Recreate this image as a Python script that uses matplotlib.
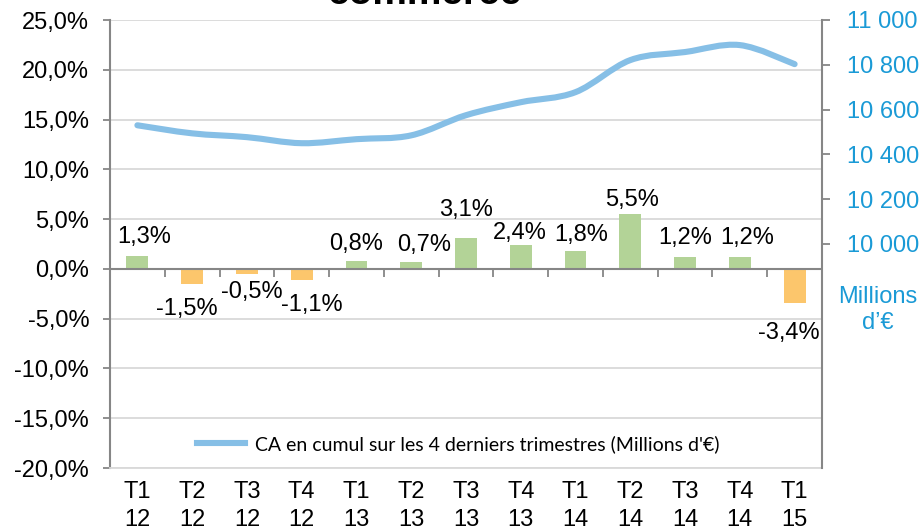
import matplotlib
matplotlib.use("Agg")
import matplotlib.pyplot as plt
from matplotlib.path import Path
from matplotlib.patches import PathPatch
import numpy as np

quarters = ["T1", "T2", "T3", "T4", "T1", "T2", "T3", "T4", "T1", "T2", "T3", "T4", "T1"]
years = ["12", "12", "12", "12", "13", "13", "13", "13", "14", "14", "14", "14", "15"]
growth_pct = [1.3, -1.5, -0.5, -1.1, 0.8, 0.7, 3.1, 2.4, 1.8, 5.5, 1.2, 1.2, -3.4]
ca_cumul = [10530, 10494, 10477, 10450, 10468, 10485, 10575, 10633, 10678, 10821, 10857, 10888, 10803]

left_ticks = [-20, -15, -10, -5, 0, 5, 10, 15, 20, 25]
right_ticks = [10000, 10200, 10400, 10600, 10800, 11000]

# label nudges (pixels), as placed in the original chart
label_dx = [7, -5, 5, 10, 0, 13, 0, -1, 6, 2, 0, 7, -6]
label_gap = [8, 14, 7, 14, 6, 6, 17, 1, 5, 3, 8, 8, 19]

plt.rcParams['font.family'] = ['Liberation Sans', 'DejaVu Sans']

GREEN = "#B3D397"
ORANGE = "#FCC66C"
LINE = "#86BFE6"
BLUE_TXT = "#1A9AD6"
GRID = "#D9D9D9"
SPINE = "#868686"
FS = 17
LW = 4.4

fig = plt.figure(figsize=(9.21, 5.32), dpi=100)
ax1 = fig.add_axes([110/921, 1-468/532, 712/921, 448/532])
ax2 = ax1.twinx()

x = np.arange(len(growth_pct))
colors = [GREEN if v >= 0 else ORANGE for v in growth_pct]
ax1.bar(x, growth_pct, width=0.4, color=colors, zorder=2)

for xi, v, dx, g in zip(x, growth_pct, label_dx, label_gap):
    lab = f"{v:.1f}".replace(".", ",") + "%"
    if v >= 0:
        ax1.annotate(lab, (xi, v), xytext=(dx, g), textcoords="offset pixels",
                     ha="center", va="bottom", fontsize=FS, zorder=5)
    else:
        ax1.annotate(lab, (xi, v), xytext=(dx, -g), textcoords="offset pixels",
                     ha="center", va="top", fontsize=FS, zorder=5)

ax1.set_xlim(-0.5, len(x) - 0.5)
ax1.set_ylim(-20, 25)
ax1.set_yticks(left_ticks)
ax1.set_yticklabels([f"{t:.1f}".replace(".", ",") + "%" for t in left_ticks], fontsize=FS)
ax1.grid(axis="y", color=GRID, linewidth=1.3, zorder=0)
ax1.set_axisbelow(True)
ax1.tick_params(axis="y", direction="out", length=5, width=1.3, color=SPINE, pad=10)

ax1.set_xticks(x)
ax1.set_xticklabels([f"{q}\n{y}" for q, y in zip(quarters, years)], fontsize=FS, linespacing=1.4)
ax1.tick_params(axis="x", length=0, pad=9)

ax1.axhline(0, color=SPINE, linewidth=1.5, zorder=3)
sec = ax1.secondary_xaxis(0, transform=ax1.transData)
sec.set_xticks(np.arange(len(x) + 1) - 0.5)
sec.set_xticklabels([])
sec.tick_params(axis="x", direction="out", length=6, width=1.3, color=SPINE)
sec.spines["bottom"].set_visible(False)

for s in ["top"]:
    ax1.spines[s].set_visible(False)
    ax2.spines[s].set_visible(False)
ax1.spines["left"].set_color(SPINE)
ax1.spines["left"].set_linewidth(1.5)
ax1.spines["bottom"].set_color(GRID)
ax1.spines["bottom"].set_linewidth(1.3)
ax1.spines["right"].set_visible(False)
ax2.spines["left"].set_visible(False)
ax2.spines["bottom"].set_visible(False)
ax2.spines["right"].set_color(SPINE)
ax2.spines["right"].set_linewidth(1.5)

# smoothed line (Excel-style Bezier through the data points)
pts = np.column_stack([x, ca_cumul]).astype(float)
ext = np.vstack([pts[0], pts, pts[-1]])
verts = [tuple(pts[0])]
codes = [Path.MOVETO]
for i in range(len(pts) - 1):
    p0, p1, p2, p3 = ext[i], ext[i + 1], ext[i + 2], ext[i + 3]
    c1 = p1 + (p2 - p0) / 6.0
    c2 = p2 - (p3 - p1) / 6.0
    verts += [tuple(c1), tuple(c2), tuple(p2)]
    codes += [Path.CURVE4] * 3
curve = PathPatch(Path(verts, codes), facecolor="none", edgecolor=LINE, linewidth=LW,
                  capstyle="round", joinstyle="round", zorder=4)
ax2.add_patch(curve)
ax2.plot([], [], color=LINE, linewidth=LW,
         label="CA en cumul sur les 4 derniers trimestres (Millions d'€)")

ax2.set_ylim(9000, 11000)
ax2.set_yticks(right_ticks)
ax2.set_yticklabels([f"{t:,}".replace(",", " ") for t in right_ticks], fontsize=FS, color=BLUE_TXT)
ax2.tick_params(axis="y", direction="out", length=6, width=1.3, color=SPINE, pad=12)

leg = ax2.legend(loc="center", bbox_to_anchor=(0.489, 0.054), frameon=False,
                 prop={"family": "Lato", "size": 14}, handlelength=2.5, handletextpad=0.5)

fig.text(878/921, 1-310/532, "Millions\nd’€", ha="center", va="center",
         fontsize=FS, color=BLUE_TXT, linespacing=1.25)
fig.text(425/921, 1-4/532, "commerce", ha="center", va="baseline",
         fontsize=28, fontweight="bold", color="black")

fig.savefig("out.png", dpi=100)
